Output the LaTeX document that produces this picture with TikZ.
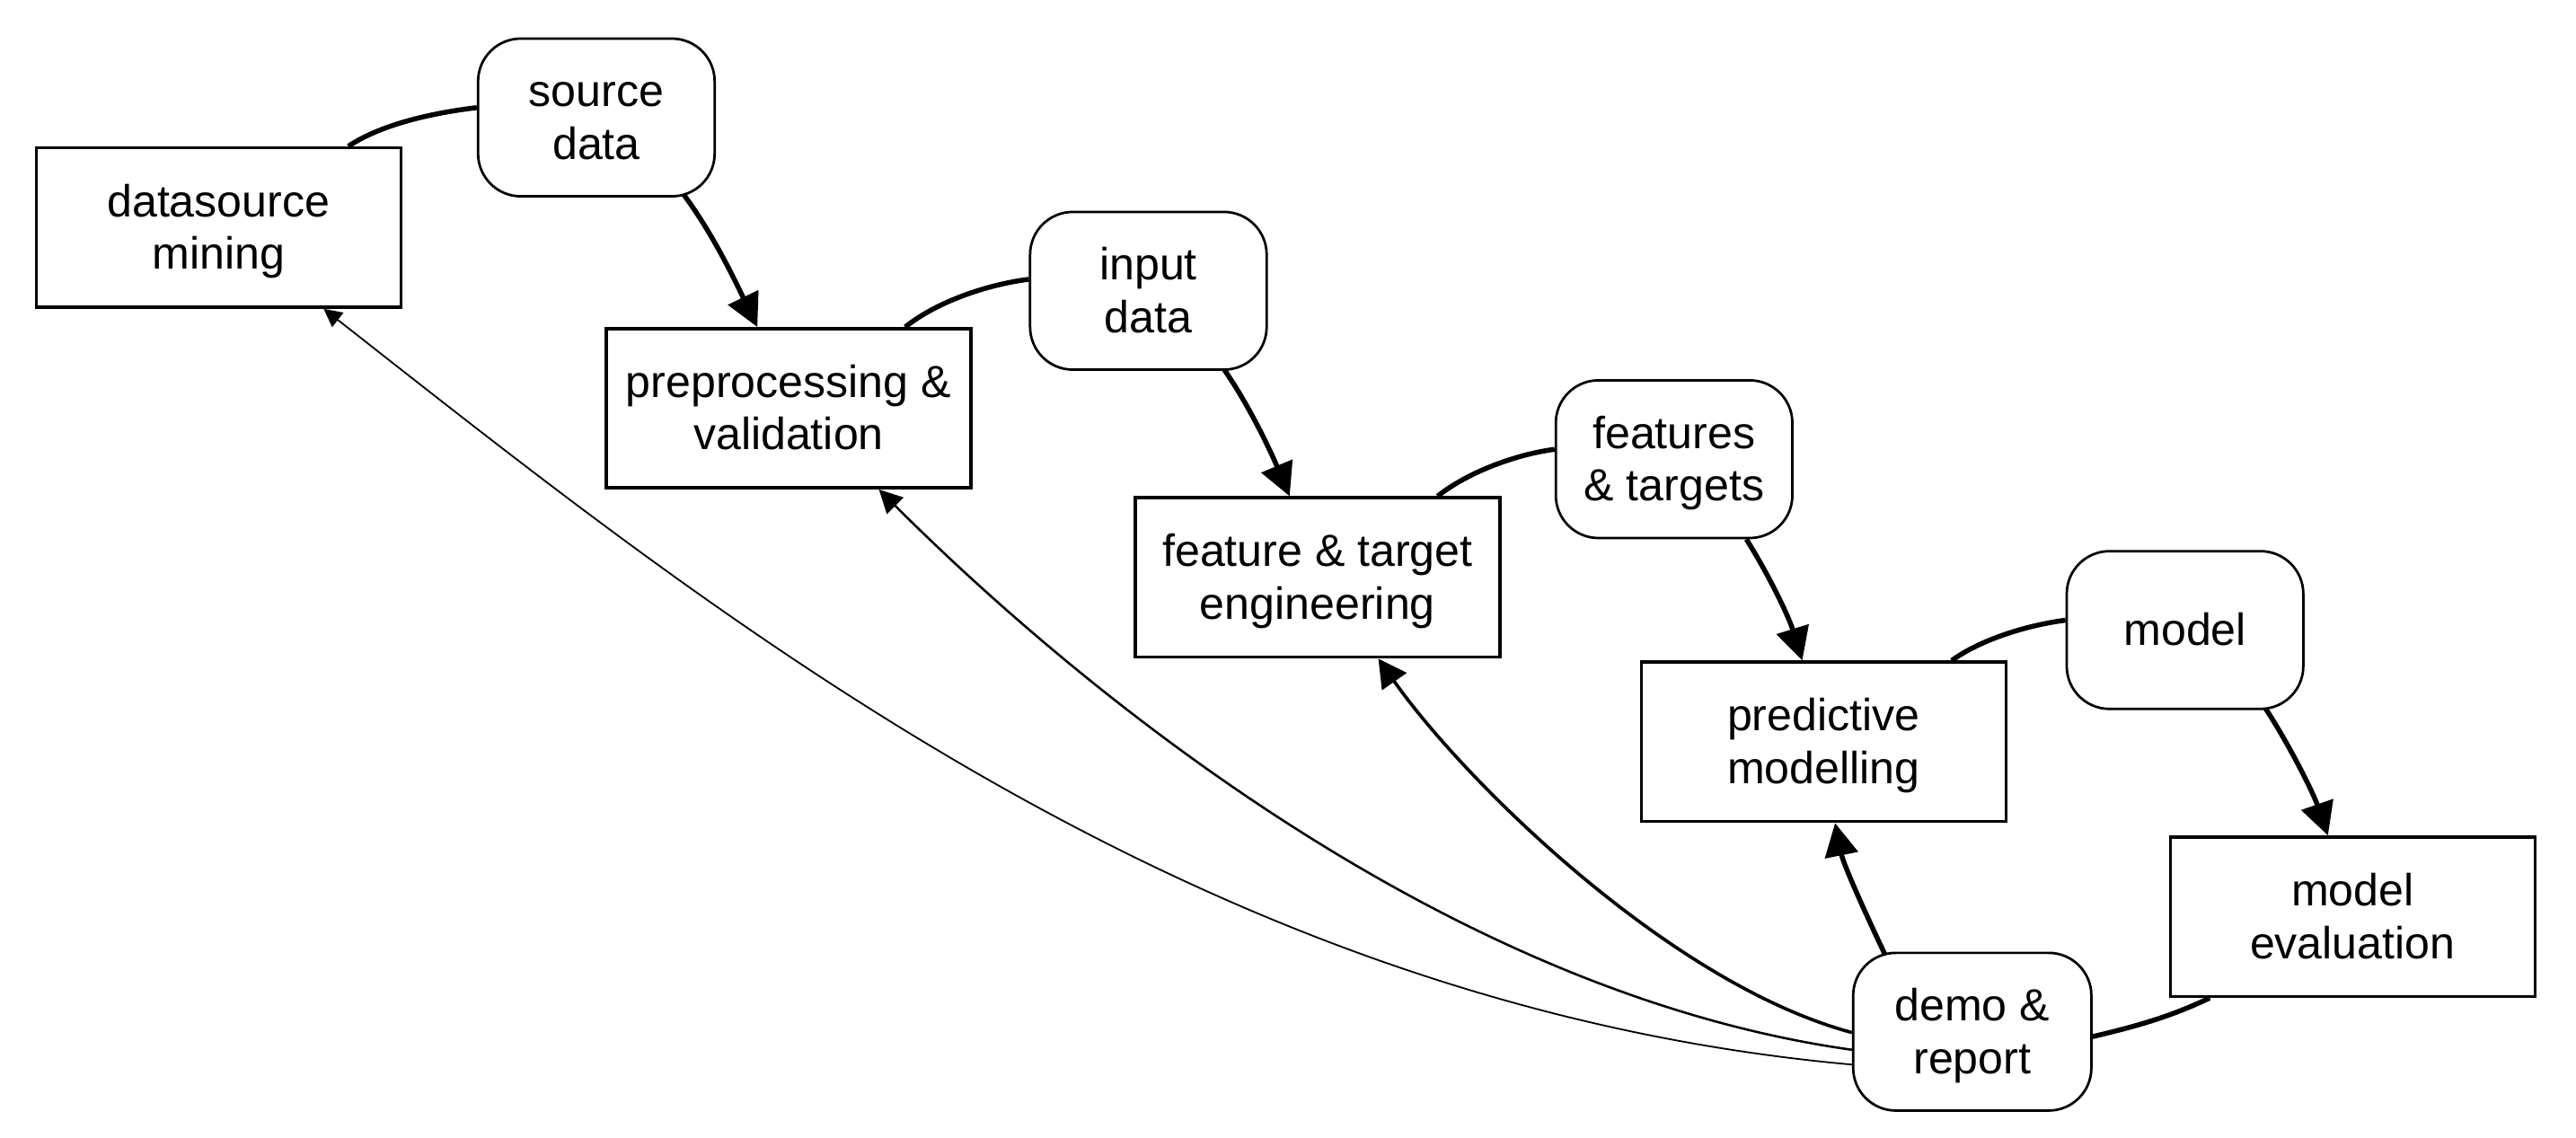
\documentclass[tikz,border=0pt]{standalone}
\usepackage{fontspec}
\setmainfont{Liberation Sans}
\usetikzlibrary{arrows.meta,calc}
\newcommand{\lbl}[1]{\raisebox{-3pt}[\height][\depth]{\begin{tabular}{@{}c@{}}#1\end{tabular}}}
\begin{document}
\begin{tikzpicture}[x=1pt,y=-1pt,
  box/.style={draw,line width=1.9pt,minimum width=222pt,minimum height=97pt,inner sep=0pt,font=\fontsize{27.4}{32}\selectfont},
  rbox/.style={draw,line width=1.5pt,rounded corners=26pt,minimum width=144pt,minimum height=96pt,inner sep=0pt,font=\fontsize{27.4}{32}\selectfont},
  link/.style={line width=3pt},
  flow/.style={line width=3pt,-{Triangle[length=20pt,width=20pt]}},
  backA/.style={line width=2pt,-{Triangle[length=17pt,width=18pt]}},
  backB/.style={line width=1.4pt,-{Triangle[length=14pt,width=14pt]}},
  backC/.style={line width=1pt,-{Triangle[length=11pt,width=11pt]}}
]
\useasboundingbox (0,0) rectangle (1568,692.2);
\node[box]  (dm)  at (133,138.5)  {\lbl{datasource\\mining}};
\node[rbox] (sd)  at (363,71.5)   {\lbl{source\\data}};
\node[box]  (pp)  at (480,248.5)  {\lbl{preprocessing \&\\validation}};
\node[rbox] (id)  at (699,177)    {\lbl{input\\data}};
\node[box]  (ft)  at (802,351.5)  {\lbl{feature \& target\\engineering}};
\node[rbox] (fat) at (1019,279.5) {\lbl{features\\\& targets}};
\node[box]  (pm)  at (1110,451.5) {\lbl{predictive\\modelling}};
\node[rbox] (mo)  at (1330,383.5) {\lbl{model}};
\node[box]  (me)  at (1432,558)   {\lbl{model\\evaluation}};
\node[rbox,minimum width=145pt] (dr) at (1200.5,628) {\lbl{demo \&\\report}};

% short links box -> rounded
\draw[link] ($(dm.north)+(79,0)$) .. controls +(21,-14) and +(-25,3) .. ($(sd.west)+(0,-6)$);
\draw[link] ($(pp.north)+(71,0)$) .. controls +(20,-16) and +(-24,3) .. ($(id.west)+(0,-7)$);
\draw[link] ($(ft.north)+(73,0)$) .. controls +(19,-15) and +(-23,3) .. ($(fat.west)+(0,-6)$);
\draw[link] ($(pm.north)+(78,0)$) .. controls +(18,-13) and +(-23,3) .. ($(mo.west)+(0,-6)$);

% main arrows rounded -> box
\draw[flow] ($(sd.south)+(53,-2)$) .. controls +(18,24) and +(-13,-27) .. ($(pp.north)+(-19,0)$);
\draw[flow] ($(id.south)+(46,-1)$) .. controls +(16,23) and +(-11,-26) .. ($(ft.north)+(-17,0)$);
\draw[flow] ($(fat.south)+(44,0)$) .. controls +(15,24) and +(-8,-26) .. ($(pm.north)+(-13,0)$);
\draw[flow] ($(mo.south)+(49,-1)$) .. controls +(15,23) and +(-9,-26) .. ($(me.north)+(-15,0)$);

% evaluation -> demo
\draw[link] ($(me.south)+(-87,0)$) .. controls +(-25,12) and +(25,-6) .. ($(dr.east)+(0,3)$);

% feedback arrows from demo
\draw[flow] ($(dr.north)+(-53,2)$) .. controls +(-11,-23) and +(5,25) .. ($(pm.south)+(7,0)$);
\draw[backA] ($(dr.west)+(0,0.5)$) .. controls +(-111.1,-29.8) and +(51.7,73.7) .. ($(ft.south)+(37,0)$);
\draw[backB] ($(dr.west)+(0,11)$) .. controls +(-257.4,-36.1) and +(106,106) .. ($(pp.south)+(55,0)$);
\draw[backC] ($(dr.west)+(0,20)$) .. controls +(-400,-36) and +(236,185) .. ($(dm.south)+(64,0)$);
\end{tikzpicture}
\end{document}
